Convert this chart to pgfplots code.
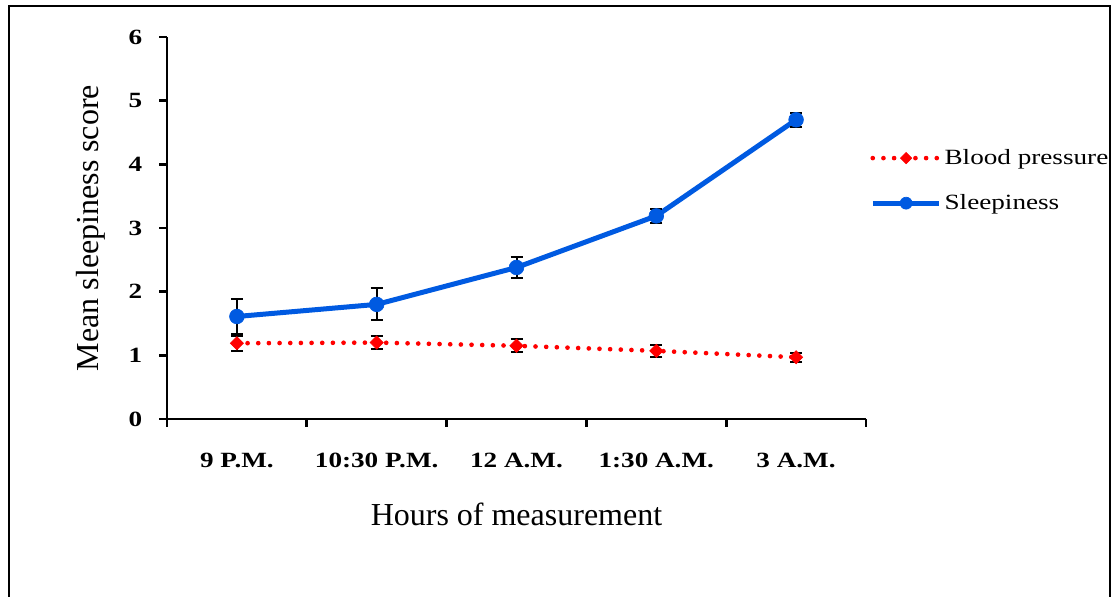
\documentclass[border=0pt]{standalone}
\usepackage{fontspec}
\setmainfont{Liberation Serif}
\usepackage{graphicx}
\usepackage{pgfplots}
\pgfplotsset{compat=1.18}

\definecolor{sleepblue}{RGB}{0,90,225}
\definecolor{bpred}{RGB}{255,0,0}

% stretched label text, as in the reference
\newcommand{\wide}[1]{\scalebox{1.25}[1]{#1}}

\begin{document}
\begin{tikzpicture}
  % page = 1120x596 px, 1px = 0.75pt
  \path[use as bounding box] (0,0) rectangle (840pt,447pt);
  \draw[line width=1.5pt] (6.75pt,-5pt) -- (6.75pt,442.5pt) -- (832.5pt,442.5pt) -- (832.5pt,-5pt);

  \begin{axis}[
      at={(125.25pt,132.75pt)}, anchor=south west,
      scale only axis,
      width=524.25pt, height=286.5pt,
      xmin=0.5, xmax=5.5,
      ymin=0, ymax=6,
      axis lines=left,
      axis line style={-, line width=2pt},
      tick align=outside,
      major tick length=6pt,
      every tick/.style={black, line width=2pt},
      xtick={0.5,1.5,2.5,3.5,4.5,5.5},
      xticklabels={\wide{9 P.M.},\wide{10:30 P.M.},\wide{12 A.M.},\wide{1:30 A.M.},\wide{3 A.M.},{}},
      ytick={0,1,2,3,4,5,6},
      yticklabels={\wide{0},\wide{1},\wide{2},\wide{3},\wide{4},\wide{5},\wide{6}},
      xticklabel style={font=\fontsize{16.3}{18}\selectfont\bfseries, anchor=center, xshift=52.4pt, yshift=-25pt},
      yticklabel style={font=\fontsize{16.3}{18}\selectfont\bfseries, anchor=east, xshift=-9pt},
      xlabel={Hours of measurement},
      ylabel={Mean sleepiness score},
      xlabel style={font=\fontsize{24}{28}\selectfont, at={(axis description cs:0.5,-0.251)}, anchor=center},
      ylabel style={font=\fontsize{24}{28}\selectfont, at={(axis description cs:-0.109,0.5)}, anchor=center},
      legend style={at={(axis description cs:1.0,0.72)}, anchor=north west, draw=none, fill=none,
                    font=\fontsize{16.3}{18}\selectfont, row sep=17pt},
      legend cell align=left,
      legend image code/.code={
        \draw[mark repeat=2, mark phase=2, #1] plot coordinates {(0pt,0pt) (25pt,0pt) (50pt,0pt)};
      },
      clip=false,
    ]

    % Blood pressure
    \addplot[bpred, line width=3.5pt, line cap=round, dash pattern=on 0pt off 8pt,
             mark=square*, mark size=3.5pt, mark options={solid, rotate=45, fill=bpred, line width=0.5pt},
             legend image post style={mark size=3pt},
             error bars/.cd, y dir=both, y explicit,
             error bar style={black, line width=1.5pt, solid},
             error mark options={black, rotate=90, mark size=4.5pt, line width=1.5pt}]
      table[row sep=crcr, x=x, y=y, y error=e]{
        x y e \\
        1 1.19 0.12 \\
        2 1.20 0.10 \\
        3 1.15 0.10 \\
        4 1.07 0.09 \\
        5 0.97 0.07 \\
      };
    \addlegendentry{\wide{Blood pressure}}

    % Sleepiness
    \addplot[sleepblue, line width=3.75pt,
             mark=*, mark size=5.5pt, mark options={fill=sleepblue, line width=0.5pt},
             legend image post style={mark size=4.5pt},
             error bars/.cd, y dir=both, y explicit,
             error bar style={black, line width=1.5pt},
             error mark options={black, rotate=90, mark size=4.5pt, line width=1.5pt}]
      table[row sep=crcr, x=x, y=y, y error=e]{
        x y e \\
        1 1.61 0.28 \\
        2 1.80 0.25 \\
        3 2.38 0.16 \\
        4 3.19 0.11 \\
        5 4.70 0.11 \\
      };
    \addlegendentry{\wide{Sleepiness}}
  \end{axis}
\end{tikzpicture}
\end{document}
